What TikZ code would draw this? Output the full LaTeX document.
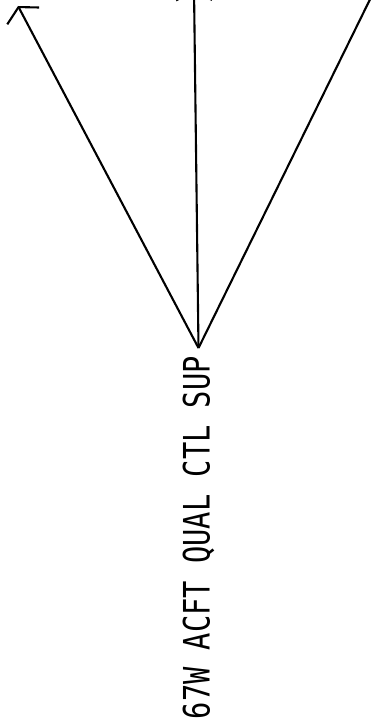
\documentclass[tikz,border=0pt]{standalone}
\usepackage{fontspec}
\setmonofont{DejaVu Sans Mono}
\usetikzlibrary{arrows.meta,positioning}
\tikzstyle{feed}=[line width=2.1pt, -{Straight Barb[length=10pt,width=36pt,line width=2.1pt]}]
\tikzstyle{unit}=[rotate=90, inner sep=0pt, anchor=east]

\begin{document}
\begin{tikzpicture}[x=1pt,y=-1pt]
\useasboundingbox (0,0) rectangle (386,727);
\clip (0,0) rectangle (386,727);
\node (sup) [unit] at (198.5,356) {\resizebox{363pt}{27pt}{\ttfamily 67W ACFT QUAL CTL SUP}};
\coordinate (hub) at (198.5,348);
\coordinate (left) at (18,6);
\coordinate (mid) at (194,-11);
\coordinate (right) at (382,-25);
\draw[feed] (hub)--(left);
\draw[feed] (hub)--(mid);
\draw[feed] (hub)--(right);
\end{tikzpicture}
\end{document}
